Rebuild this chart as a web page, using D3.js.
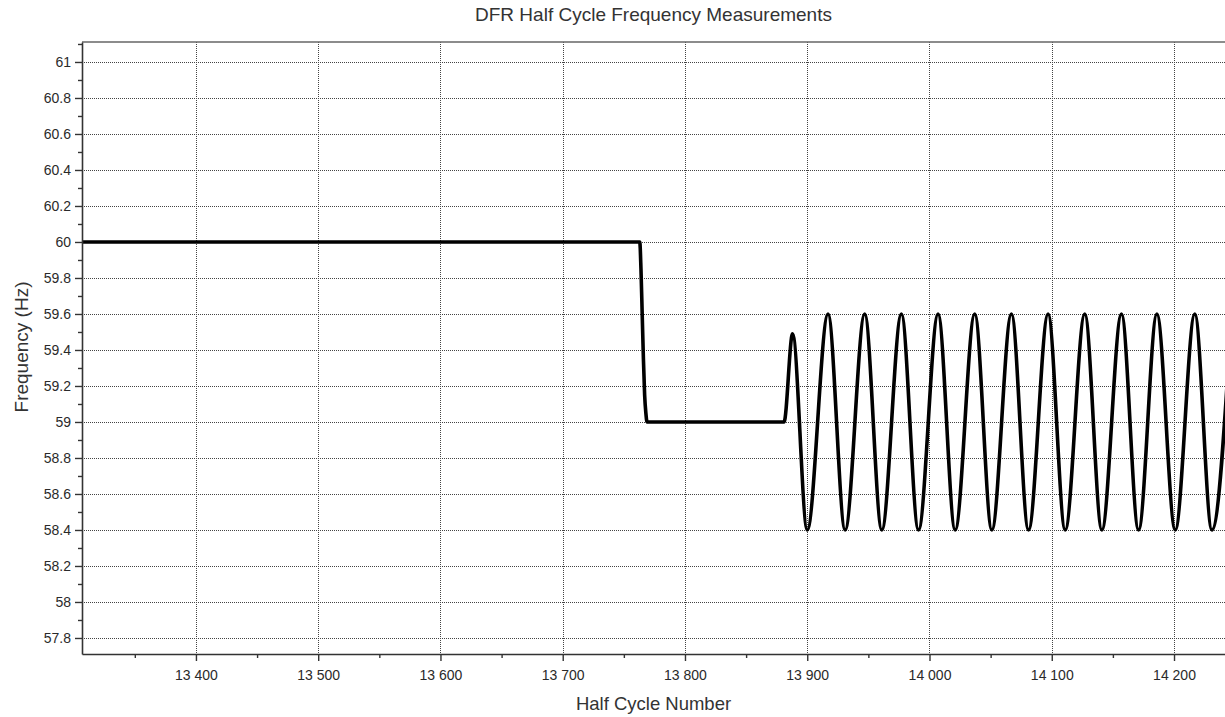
<!DOCTYPE html>
<html>
<head>
<meta charset="utf-8">
<title>DFR Half Cycle Frequency Measurements</title>
<style>
body { margin: 0; background: #fff; }
text { font-family: "Liberation Sans", Arial, sans-serif; fill: #222; }
.grid line { stroke: #444; stroke-width: 1; stroke-dasharray: 1,1; }
.axis path, .axis line { stroke: #333; }
.axis text { font-size: 14px; fill: #2a2a2a; }
.minor path { display: none; }
.minor line { stroke: #333; }
.freq { fill: none; stroke: #000; stroke-width: 3.6px; stroke-linejoin: round; }
</style>
</head>
<body>
<script src="https://cdnjs.cloudflare.com/ajax/libs/d3/7.8.5/d3.min.js"></script>
<script>

var cycles = [13300, 13763, 13764, 13765, 13766, 13767, 13768, 13769, 13881, 13888,
  13900, 13917, 13931, 13947, 13961, 13977, 13991, 14007, 14021, 14037, 14051,
  14067, 14081, 14097, 14111, 14127, 14141, 14157, 14171, 14186, 14201, 14217,
  14231, 14247];
var freqs = [60, 60, 59.85, 59.6, 59.35, 59.15, 59.05, 59.0, 59.0, 59.49,
  58.4, 59.6, 58.4, 59.6, 58.4, 59.6, 58.4, 59.6, 58.4, 59.6, 58.4,
  59.6, 58.4, 59.6, 58.4, 59.6, 58.4, 59.6, 58.4, 59.6, 58.4, 59.6,
  58.4, 59.6];

var xTicks = [13400, 13500, 13600, 13700, 13800, 13900, 14000, 14100, 14200];
var xMinor = [13350, 13450, 13550, 13650, 13750, 13850, 13950, 14050, 14150];
var yTicks = [57.8, 58, 58.2, 58.4, 58.6, 58.8, 59, 59.2, 59.4, 59.6, 59.8, 60, 60.2, 60.4, 60.6, 60.8, 61];
var yMinor = [57.9, 58.1, 58.3, 58.5, 58.7, 58.9, 59.1, 59.3, 59.5, 59.7, 59.9, 60.1, 60.3, 60.5, 60.7, 60.9, 61.1];

var width = 1225, height = 717;
var mLeft = 82, mRight = 1225, mTop = 42, mBottom = 654;

var data = cycles.map(function(c, i) { return {c: c, f: freqs[i]}; });

var svg = d3.select("body").append("svg")
    .attr("width", width)
    .attr("height", height);

var x = d3.scaleLinear().domain([13306.8, 14241.7]).range([mLeft, mRight]);
var y = d3.scaleLinear().domain([57.711, 61.111]).range([mBottom, mTop]);

var loc = d3.formatLocale({decimal: ".", thousands: " ", grouping: [3], currency: ["", ""]});
var fmtX = loc.format(",");

// grid
svg.append("g").attr("class", "grid")
  .selectAll("line").data(yTicks).enter().append("line")
  .attr("x1", mLeft).attr("x2", mRight)
  .attr("y1", d => Math.round(y(d)) + 0.5).attr("y2", d => Math.round(y(d)) + 0.5);
svg.append("g").attr("class", "grid")
  .selectAll("line").data(xTicks).enter().append("line")
  .attr("x1", d => Math.round(x(d)) + 0.5).attr("x2", d => Math.round(x(d)) + 0.5)
  .attr("y1", mTop).attr("y2", mBottom);

// top border
svg.append("line")
  .attr("x1", mLeft).attr("x2", mRight).attr("y1", mTop).attr("y2", mTop)
  .attr("stroke", "#666").attr("stroke-width", 1.5);

// the line
svg.append("clipPath").attr("id", "clip")
  .append("rect").attr("x", mLeft).attr("y", mTop).attr("width", mRight - mLeft).attr("height", mBottom - mTop);

var line = d3.line()
    .x(d => x(d.c))
    .y(d => y(d.f))
    .curve(d3.curveMonotoneX);

svg.append("path")
  .datum(data)
  .attr("class", "freq")
  .attr("clip-path", "url(#clip)")
  .attr("d", line);

// axes
var xAxis = svg.append("g").attr("class", "axis")
  .attr("transform", "translate(0," + mBottom + ")")
  .call(d3.axisBottom(x).tickValues(xTicks).tickFormat(fmtX).tickSizeInner(7).tickSizeOuter(0).tickPadding(9));
xAxis.select(".domain").attr("stroke-width", 1.6);
xAxis.selectAll(".tick line").attr("stroke-width", 1.4);

svg.append("g").attr("class", "minor")
  .attr("transform", "translate(0," + mBottom + ")")
  .call(d3.axisBottom(x).tickValues(xMinor).tickFormat("").tickSize(4))
  .selectAll(".tick line").attr("stroke-width", 1.4);

var yAxis = svg.append("g").attr("class", "axis")
  .attr("transform", "translate(" + mLeft + ",0)")
  .call(d3.axisLeft(y).tickValues(yTicks).tickFormat(d3.format("~g")).tickSizeInner(7).tickSizeOuter(0).tickPadding(4));
yAxis.select(".domain").attr("stroke-width", 1.6);
yAxis.selectAll(".tick line").attr("stroke-width", 1.4);

svg.append("g").attr("class", "minor")
  .attr("transform", "translate(" + mLeft + ",0)")
  .call(d3.axisLeft(y).tickValues(yMinor).tickFormat("").tickSize(4))
  .selectAll(".tick line").attr("stroke-width", 1.4);

// titles
svg.append("text")
  .attr("x", (mLeft + mRight) / 2).attr("y", 21)
  .attr("text-anchor", "middle")
  .style("font-size", "19px").style("fill", "#333")
  .text("DFR Half Cycle Frequency Measurements");

svg.append("text")
  .attr("x", (mLeft + mRight) / 2).attr("y", 710)
  .attr("text-anchor", "middle")
  .style("font-size", "18.5px").style("fill", "#333")
  .text("Half Cycle Number");

svg.append("text")
  .attr("transform", "translate(28,347) rotate(-90)")
  .attr("text-anchor", "middle")
  .style("font-size", "19px").style("fill", "#333")
  .text("Frequency (Hz)");

</script>
</body>
</html>
